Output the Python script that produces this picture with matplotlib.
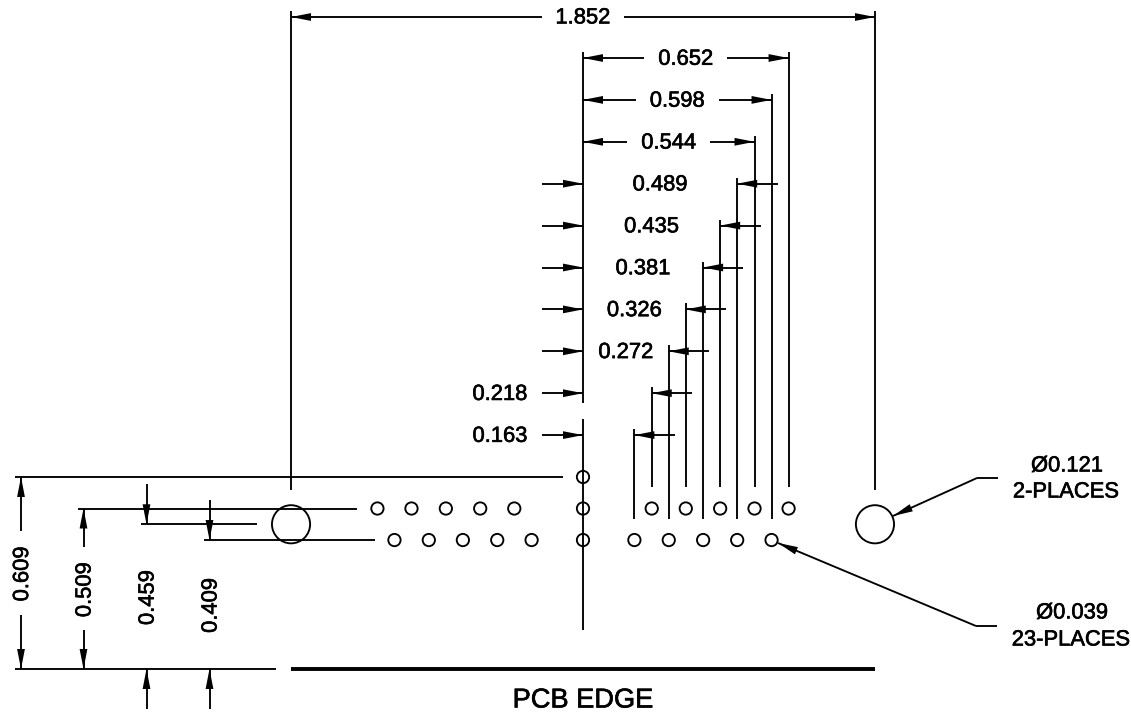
import math
import matplotlib
matplotlib.use("Agg")
import matplotlib.pyplot as plt
import matplotlib.patheffects as pe
from matplotlib.patches import Circle

plt.rcParams['font.family'] = ['Liberation Sans', 'DejaVu Sans']

# drawing values, inches from the centre hole (x) and from the PCB edge (y)
x_dims = [0.652, 0.598, 0.544, 0.489, 0.435, 0.381, 0.326, 0.272, 0.218, 0.163]
x_labels = ['0.652', '0.598', '0.544', '0.489', '0.435', '0.381', '0.326', '0.272', '0.218', '0.163']
y_dims = [0.609, 0.509, 0.459, 0.409]
y_labels = ['0.609', '0.509', '0.459', '0.409']
overall_width = 1.852
overall_label = '1.852'
big_hole_dia = 0.121
small_hole_dia = 0.039
upper_row = [-0.652, -0.544, -0.435, -0.326, -0.218, 0, 0.218, 0.326, 0.435, 0.544, 0.652]
lower_row = [-0.598, -0.489, -0.381, -0.272, -0.163, 0, 0.163, 0.272, 0.381, 0.489, 0.598]
centre_hole_y = 0.609
big_hole_y = 0.459
edge_label = 'PCB EDGE'
big_note = ['Ø0.121', '2-PLACES']
small_note = ['Ø0.039', '23-PLACES']

W, H = 1131, 717
X0, Y0, SCALE = 583, 669, 315.3  # pixel of the origin, pixels per inch
LW = 1.35
FS = 15.8
HEAD_LEN = 20 / SCALE
HEAD_HALF = 3.9 / SCALE


def px(x):
    return (x - X0) / SCALE


def py(y):
    return (Y0 - y) / SCALE


fig = plt.figure(figsize=(W / 100, H / 100), dpi=100)
ax = fig.add_axes([0, 0, 1, 1])
ax.set_xlim(px(0), px(W))
ax.set_ylim(py(H), py(0))
ax.axis('off')


def line(x0, y0, x1, y1, lw=LW):
    ax.plot([x0, x1], [y0, y1], color='black', lw=lw, solid_capstyle='butt')


def arrow(xtail, ytail, xtip, ytip):
    # thin filled head like the CAD one, the fill drawn by hand so the tip lands on the line
    line(xtail, ytail, xtip, ytip)
    n = math.hypot(xtip - xtail, ytip - ytail)
    ux, uy = (xtip - xtail) / n, (ytip - ytail) / n
    bx, by = xtip - ux * HEAD_LEN, ytip - uy * HEAD_LEN
    ax.fill([xtip, bx - uy * HEAD_HALF, bx + uy * HEAD_HALF],
            [ytip, by + ux * HEAD_HALF, by - ux * HEAD_HALF], color='black', lw=0)


def label(x, y, s, rot=0, fs=FS):
    t = ax.text(x, y, s, ha='center', va='center', rotation=rot, fontsize=fs, color='black')
    t.set_path_effects([pe.withStroke(linewidth=0.45, foreground='black')])


# overall width
half = overall_width / 2
top_y = py(17)
line(-half, py(11), -half, py(490))
line(half, py(11), half, py(490))
arrow(px(542), top_y, -half, top_y)
arrow(px(624), top_y, half, top_y)
label(0, top_y - 0.003, overall_label)

# centre line, broken for the two outside labels
line(0, py(52), 0, py(403))
line(0, py(419), 0, py(630))

# x dimensions, top to bottom
for i, (d, s) in enumerate(zip(x_dims, x_labels)):
    y = py(58 + 41.9 * i)
    row_end = py(487) if d in upper_row else py(519)
    line(d, y + 0.019, d, row_end)
    if i < 3:
        # arrows inside, label between them
        arrow(d / 2 - 0.132, y, 0, y)
        arrow(d / 2 + 0.132, y, d, y)
        label(d / 2, y - 0.004, s)
    else:
        arrow(px(542), y, 0, y)
        arrow(d + 0.128, y, d, y)
        label(d / 2 if i < 8 else px(500), y - 0.004, s)

# y dimensions, left to right
dim_x = [px(21), px(83.5), px(146.5), px(209.5)]
line_x0 = [px(15), px(78), px(141), px(204)]
line_x1 = [px(563), px(357), px(257), px(375)]
for i, (d, s) in enumerate(zip(y_dims, y_labels)):
    x = dim_x[i]
    line(line_x0[i], d, line_x1[i], d)
    if i < 2:
        gap = 0.132
        arrow(x, d / 2 + gap, x, d)
        arrow(x, d / 2 - gap, x, 0)
    else:
        arrow(x, d + 0.128, x, d)
        arrow(x, py(709), x, 0)
    label(x + 0.005, d / 2 - 0.003, s, rot=90)

# PCB edge
line(px(15), 0, px(276), 0)
line(-half, 0, half, 0, lw=2.8)
label(px(583), py(700.5), edge_label, fs=19.6)

# holes
for x in upper_row:
    ax.add_patch(Circle((x, y_dims[1]), small_hole_dia / 2, fc='none', ec='black', lw=LW))
for x in lower_row:
    ax.add_patch(Circle((x, y_dims[3]), small_hole_dia / 2, fc='none', ec='black', lw=LW))
ax.add_patch(Circle((0, centre_hole_y), small_hole_dia / 2, fc='none', ec='black', lw=LW))
for x in (-half, half):
    ax.add_patch(Circle((x, big_hole_y), big_hole_dia / 2, fc='none', ec='black', lw=LW))

# leaders and notes
line(px(998), py(478), px(977), py(478))
arrow(px(977), py(478), px(893), py(516))
line(px(997), py(626), px(976), py(626))
arrow(px(976), py(626), px(778), py(543))
label(px(1067), py(466), big_note[0])
label(px(1066), py(492), big_note[1])
label(px(1072), py(613), small_note[0])
label(px(1071), py(640), small_note[1])

fig.savefig('out.png', dpi=100, facecolor='white')
